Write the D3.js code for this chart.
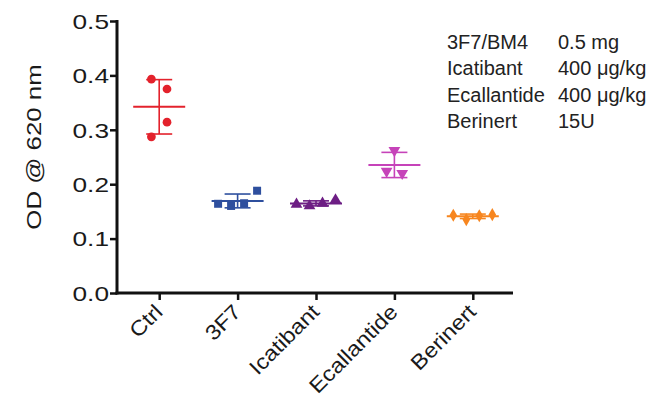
<!DOCTYPE html>
<html>
<head>
<meta charset="utf-8">
<script src="https://cdn.jsdelivr.net/npm/d3@7"></script>
<style>
  body { margin: 0; background: #fff; }
  svg { display: block; }
</style>
</head>
<body>
<div id="chart"></div>
<script>
// Data
const categories = ["Ctrl", "3F7", "Icatibant", "Ecallantide", "Berinert"];
const ctrlValues = [0.393, 0.375, 0.287, 0.314];
const f7Values = [0.164, 0.160, 0.165, 0.188];
const icatibantValues = [0.163, 0.160, 0.165, 0.171];
const ecallantideValues = [0.262, 0.224, 0.220];
const berinertValues = [0.143, 0.135, 0.142, 0.144];
const groupValues = [ctrlValues, f7Values, icatibantValues, ecallantideValues, berinertValues];
const yTicks = [0, 0.1, 0.2, 0.3, 0.4, 0.5];
const legendDrugs = ["3F7/BM4", "Icatibant", "Ecallantide", "Berinert"];
const legendDoses = ["0.5 mg", "400 μg/kg", "400 μg/kg", "15U"];

const colors = ["#e3222c", "#2e4f9e", "#6d1e84", "#c643b9", "#f7861f"];
const symbols = [
    { type: d3.symbolCircle, size: 60, rot: 0 },
    { type: d3.symbolSquare, size: 64, rot: 0 },
    { type: d3.symbolTriangle, size: 60, rot: 0 },
    { type: d3.symbolTriangle, size: 60, rot: 180 },
    { type: d3.symbolDiamond, size: 50, rot: 0 }
];

const width = 669, height = 402;
const font = "Arial, 'Liberation Sans', sans-serif";

const svg = d3.select("#chart")
    .append("svg")
    .attr("width", width)
    .attr("height", height);

svg.append("rect").attr("width", width).attr("height", height).attr("fill", "#fff");

const y = d3.scaleLinear().domain([0, 0.5]).range([293, 21]);
const x = d3.scalePoint().domain(categories).range([120, 512]).padding(0.5);

// Spread points that sit close together vertically (GraphPad style scatter)
function spreadPoints(vals, gap, spacing) {
    const pts = vals.map((v, i) => ({ v, i, py: y(v) }));
    const sorted = pts.slice().sort((a, b) => a.py - b.py);
    const clusters = [];
    sorted.forEach((p, k) => {
        if (k === 0 || p.py - sorted[k - 1].py >= gap) clusters.push([p]);
        else clusters[clusters.length - 1].push(p);
    });
    clusters.forEach(c => {
        c.sort((a, b) => a.i - b.i);
        const sp = c.length === 2 ? spacing * 1.2 : spacing;
        c.forEach((p, j) => { p.dx = (j - (c.length - 1) / 2) * sp; });
    });
    return pts;
}

// Groups: mean line, SD bars, points
const meanHalf = 26, capHalf = 13;
const groups = svg.append("g")
    .selectAll("g")
    .data(categories.map((c, i) => ({ c, i, vals: groupValues[i] })))
    .join("g")
    .attr("transform", d => `translate(${x(d.c)},0)`);

groups.each(function(d) {
    const g = d3.select(this);
    const col = colors[d.i];
    const m = d3.mean(d.vals);
    const sd = d3.deviation(d.vals);

    g.append("line")
        .attr("x1", -meanHalf).attr("x2", meanHalf)
        .attr("y1", y(m)).attr("y2", y(m))
        .attr("stroke", col).attr("stroke-width", 2);

    g.append("line")
        .attr("x1", 0).attr("x2", 0)
        .attr("y1", y(m + sd)).attr("y2", y(m - sd))
        .attr("stroke", col).attr("stroke-width", 1.6);

    [m + sd, m - sd].forEach(v => {
        g.append("line")
            .attr("x1", -capHalf).attr("x2", capHalf)
            .attr("y1", y(v)).attr("y2", y(v))
            .attr("stroke", col).attr("stroke-width", 1.6);
    });

    const s = symbols[d.i];
    g.selectAll("path.pt")
        .data(spreadPoints(d.vals, 16, 13))
        .join("path")
        .attr("class", "pt")
        .attr("d", d3.symbol().type(s.type).size(s.size))
        .attr("transform", p => `translate(${p.dx},${p.py}) rotate(${s.rot})`)
        .attr("fill", col);
});

// Y axis
const yAxis = svg.append("g")
    .attr("transform", "translate(117,0)")
    .call(d3.axisLeft(y).tickValues(yTicks).tickFormat(d3.format(".1f")).tickSize(7).tickSizeOuter(0));

yAxis.select(".domain").remove();
yAxis.selectAll(".tick line").attr("stroke", "#111").attr("stroke-width", 2.5);
yAxis.selectAll(".tick text")
    .attr("x", 0)
    .attr("dy", "0.35em")
    .attr("transform", "translate(-8,0) scale(1.25,1)")
    .attr("font-family", font)
    .attr("font-size", 21)
    .attr("fill", "#1a1a1a");

// X axis
const xAxis = svg.append("g")
    .attr("transform", "translate(0,293)")
    .call(d3.axisBottom(x).tickSize(7).tickSizeOuter(0));

xAxis.select(".domain").remove();
xAxis.selectAll(".tick line").attr("stroke", "#111").attr("stroke-width", 2.5);
xAxis.selectAll(".tick text")
    .attr("x", 0).attr("y", 0)
    .attr("dy", "0.35em")
    .attr("text-anchor", "end")
    .attr("transform", "translate(-1,15) rotate(-45) scale(1.12,1)")
    .attr("font-family", font)
    .attr("font-size", 21)
    .attr("fill", "#1a1a1a");

// Axis lines
svg.append("line")
    .attr("x1", 117).attr("x2", 117)
    .attr("y1", y(0.5) - 1).attr("y2", y(0) + 1.5)
    .attr("stroke", "#111").attr("stroke-width", 3);
svg.append("line")
    .attr("x1", 115.5).attr("x2", 513)
    .attr("y1", y(0)).attr("y2", y(0))
    .attr("stroke", "#111").attr("stroke-width", 3);

// Y label
svg.append("text")
    .attr("transform", "translate(34,147) rotate(-90) scale(1.23,1)")
    .attr("text-anchor", "middle")
    .attr("dy", "0.35em")
    .attr("font-family", font)
    .attr("font-size", 21)
    .attr("fill", "#1a1a1a")
    .text("OD @ 620 nm");

// Dose annotation
const note = svg.append("g")
    .attr("font-family", font)
    .attr("font-size", 20)
    .attr("fill", "#222");

note.selectAll("text.drug")
    .data(legendDrugs)
    .join("text")
    .attr("class", "drug")
    .attr("x", 447)
    .attr("y", (d, i) => 49 + i * 26.3)
    .text(d => d);

note.selectAll("text.dose")
    .data(legendDoses)
    .join("text")
    .attr("class", "dose")
    .attr("x", 558)
    .attr("y", (d, i) => 49 + i * 26.3)
    .text(d => d);
</script>
</body>
</html>
